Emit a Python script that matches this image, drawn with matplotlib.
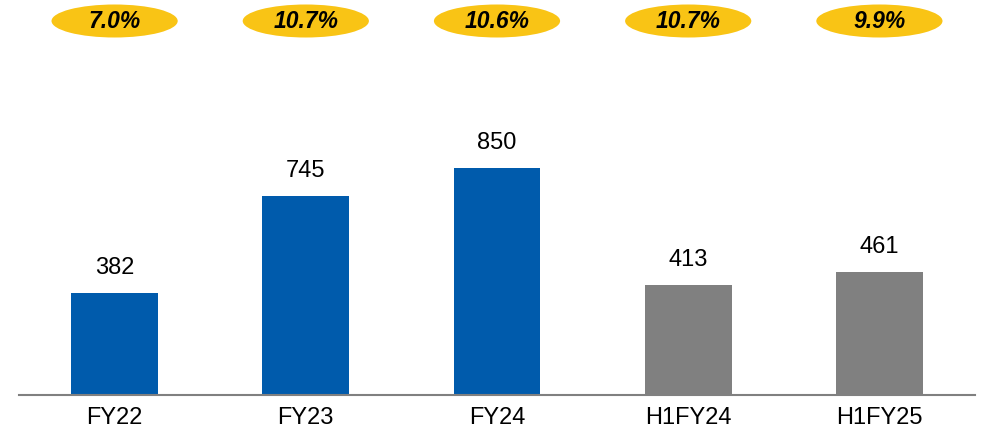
import matplotlib.pyplot as plt
from matplotlib.patches import Ellipse
import matplotlib.transforms as mtransforms

plt.rcParams['font.family'] = ['Liberation Sans', 'DejaVu Sans']

categories = ["FY22", "FY23", "FY24", "H1FY24", "H1FY25"]
values = [382, 745, 850, 413, 461]
margins = ["7.0%", "10.7%", "10.6%", "10.7%", "9.9%"]
colors = ["#005BAC", "#005BAC", "#005BAC", "#808080", "#808080"]

fig = plt.figure(figsize=(9.84, 4.29), dpi=100)
ax = fig.add_axes([19 / 984, 34 / 429, 956 / 984, 395 / 429])

x = list(range(len(categories)))
bars = ax.bar(x, values, width=0.455, color=colors)

ax.set_xlim(-0.5, len(categories) - 0.5)
ax.set_ylim(0, 1479)

for xi, v in zip(x, values):
    ax.annotate(str(v), (xi, v), xytext=(0, 10), textcoords="offset points",
                ha="center", va="bottom", fontsize=17)

# margin ellipses, x in data units, y in axes fraction
trans = mtransforms.blended_transform_factory(ax.transData, ax.transAxes)
yc = 1 - 21 / 395
for xi, m in zip(x, margins):
    e = Ellipse((xi, yc), width=0.66, height=33 / 395, transform=trans,
                facecolor="#F9C415", edgecolor="none", clip_on=False)
    ax.add_patch(e)
    ax.text(xi, yc, m, transform=trans, ha="center", va="center",
            fontsize=16.5, fontweight="bold", fontstyle="italic", color="black")

for s in ["top", "right", "left"]:
    ax.spines[s].set_visible(False)
ax.spines["bottom"].set_color("#808080")
ax.spines["bottom"].set_linewidth(1.5)

ax.set_yticks([])
ax.set_xticks(x)
ax.set_xticklabels(categories, fontsize=17)
ax.tick_params(axis="x", length=0, pad=9)

fig.savefig("out.png", dpi=100)
